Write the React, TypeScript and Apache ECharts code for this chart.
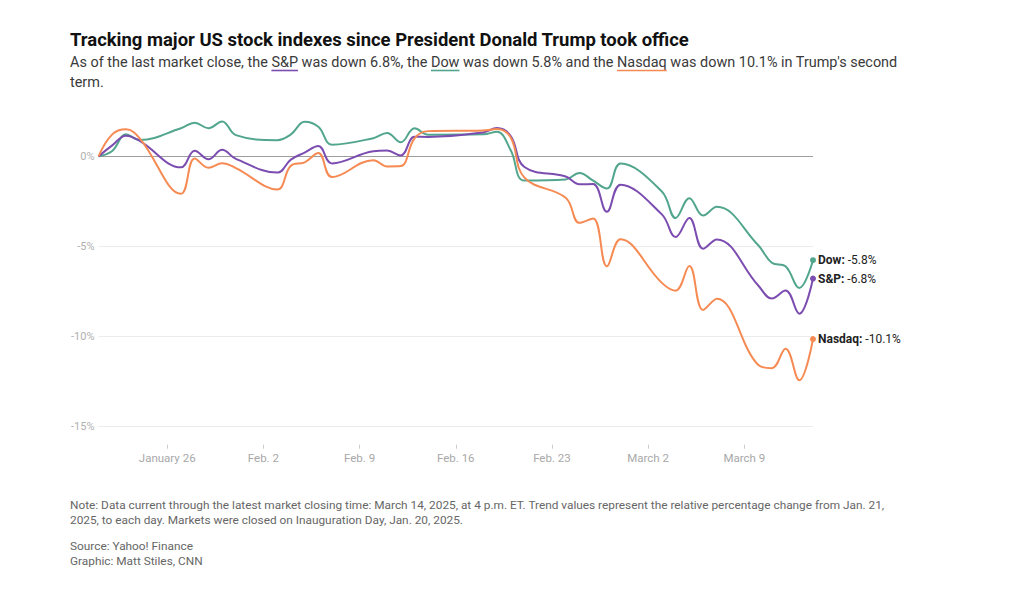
import React, { useEffect, useRef } from 'react';
import * as echarts from 'echarts';

// Trading days (Jan. 21 – March 14, 2025)
const dates = [
  '2025-01-21', '2025-01-22', '2025-01-23', '2025-01-24',
  '2025-01-27', '2025-01-28', '2025-01-29', '2025-01-30', '2025-01-31',
  '2025-02-03', '2025-02-04', '2025-02-05', '2025-02-06', '2025-02-07',
  '2025-02-10', '2025-02-11', '2025-02-12', '2025-02-13', '2025-02-14',
  '2025-02-18', '2025-02-19', '2025-02-20', '2025-02-21',
  '2025-02-24', '2025-02-25', '2025-02-26', '2025-02-27', '2025-02-28',
  '2025-03-03', '2025-03-04', '2025-03-05', '2025-03-06', '2025-03-07',
  '2025-03-10', '2025-03-11', '2025-03-12', '2025-03-13', '2025-03-14',
];

// Percent change from Jan. 21 close
const spValues = [
  0, 0.61, 1.15, 0.86,
  -0.61, 0.31, -0.16, 0.36, -0.14,
  -0.9, -0.18, 0.21, 0.57, -0.39,
  0.28, 0.32, 0.05, 1.09, 1.08,
  1.33, 1.57, 1.13, -0.59,
  -1.12, -1.55, -1.54, -3.08, -1.57,
  -3.22, -4.48, -3.42, -5.12, -4.61,
  -7.15, -7.89, -7.44, -8.73, -6.78,
];
const dowValues = [
  0, 0.3, 1.22, 0.91,
  1.56, 1.87, 1.56, 1.94, 1.18,
  0.9, 1.22, 1.92, 1.64, 0.65,
  1.01, 1.3, 0.78, 1.56, 1.2,
  1.22, 1.37, 0.34, -1.34,
  -1.28, -0.92, -1.35, -1.79, -0.4,
  -1.95, -3.42, -2.32, -3.28, -2.8,
  -4.92, -5.9, -6.1, -7.3, -5.76,
];
const nasdaqValues = [
  0, 1.22, 1.5, 1.0,
  -2.08, -0.12, -0.63, -0.38, -0.65,
  -1.84, -0.52, -0.33, 0.18, -1.15,
  -0.21, -0.56, -0.54, 1.0, 1.4,
  1.44, 1.52, 1.04, -1.18,
  -2.3, -3.69, -3.45, -6.1, -4.6,
  -7.02, -7.45, -6.09, -8.52, -7.9,
  -11.56, -11.75, -10.67, -12.42, -10.14,
];

const seriesNames = ['Dow', 'S&P', 'Nasdaq'];
const seriesColors = ['#52a68d', '#7c4db0', '#f68a53'];

const xTickDates = ['2025-01-26', '2025-02-02', '2025-02-09', '2025-02-16', '2025-02-23', '2025-03-02', '2025-03-09'];
const xTickLabels = ['January 26', 'Feb. 2', 'Feb. 9', 'Feb. 16', 'Feb. 23', 'March 2', 'March 9'];
const yMin = -15;
const yMax = 2.5;
const yStep = 5;

const titleText = 'Tracking major US stock indexes since President Donald Trump took office';
const noteLines = [
  'Note: Data current through the latest market closing time: March 14, 2025, at 4 p.m. ET. Trend values represent the relative percentage change from Jan. 21,',
  '2025, to each day. Markets were closed on Inauguration Day, Jan. 20, 2025.',
];
const creditLines = ['Source: Yahoo! Finance', 'Graphic: Matt Stiles, CNN'];

const DAY = 86400000;
const toUtc = (s: string) => {
  const [y, m, d] = s.split('-').map(Number);
  return Date.UTC(y, m - 1, d);
};
const dayIndex = (s: string) => Math.round((toUtc(s) - toUtc(dates[0])) / DAY);

export default function App() {
  const ref = useRef<HTMLDivElement>(null);

  useEffect(() => {
    const el = ref.current;
    if (!el) return;
    const chart = echarts.init(el, null, { renderer: 'svg' });

    const FAMILY = 'Roboto, "Liberation Sans", Arial, sans-serif';
    const canvas = document.createElement('canvas');
    const ctx = canvas.getContext('2d') as CanvasRenderingContext2D;
    const measure = (text: string, font: string) => {
      ctx.font = font;
      return ctx.measureText(text).width;
    };
    const fit = (text: string, weight: string, target: number) =>
      (100 * target) / measure(text, `${weight} 100px ${FAMILY}`);

    const last = (a: number[]) => a[a.length - 1];
    const sub1 = `As of the last market close, the S&P was down ${Math.abs(last(spValues)).toFixed(1)}%, the Dow was down ${Math.abs(last(dowValues)).toFixed(1)}% and the Nasdaq was down ${Math.abs(last(nasdaqValues)).toFixed(1)}% in Trump's second`;
    const sub2 = 'term.';

    const titleSize = fit(titleText, 'bold', 620);
    const subSize = fit(sub1, 'normal', 828);
    const noteSize = fit(noteLines[0], 'normal', 815);
    const titleFont = `bold ${titleSize.toFixed(2)}px ${FAMILY}`;
    const subFont = `normal ${subSize.toFixed(2)}px ${FAMILY}`;
    const noteFont = `normal ${noteSize.toFixed(2)}px ${FAMILY}`;

    const underline = (word: string, color: string) => {
      const idx = sub1.indexOf(word);
      const x0 = 70 + measure(sub1.slice(0, idx), subFont);
      const w = measure(word, subFont);
      return {
        type: 'line',
        shape: { x1: x0, y1: 70.5, x2: x0 + w, y2: 70.5 },
        style: { stroke: color, lineWidth: 1.6 },
        silent: true,
      };
    };

    const txt = (text: string, x: number, y: number, font: string, fill: string) => ({
      type: 'text',
      x,
      y,
      silent: true,
      style: {
        text,
        font,
        fill,
        textAlign: 'left',
        textVerticalAlign: 'middle',
      },
    });

    const xTickVals = xTickDates.map(dayIndex);
    const dataSets = [dowValues, spValues, nasdaqValues];

    const series = dataSets.map((vals, i) => {
      const n = vals.length;
      return {
        type: 'line',
        name: seriesNames[i],
        data: vals.map((v, j) => [dayIndex(dates[j]), v]),
        smooth: 0.4,
        showSymbol: true,
        symbol: 'circle',
        symbolSize: (_v: any, p: any) => (p.dataIndex === n - 1 ? 6 : 0),
        lineStyle: { color: seriesColors[i], width: 2 },
        itemStyle: { color: seriesColors[i] },
        emphasis: { disabled: true },
        z: 3 + i,
        endLabel: {
          show: true,
          distance: 5,
          color: '#222',
          fontSize: 12,
          fontFamily: FAMILY,
          formatter: (p: any) => `{b|${seriesNames[i]}:} ${Number(p.value[1]).toFixed(1)}%`,
          rich: {
            b: { fontWeight: 'bold', fontSize: 12, color: '#222', fontFamily: FAMILY },
          },
        },
      };
    });

    chart.setOption({
      animation: false,
      backgroundColor: '#ffffff',
      grid: { left: 98.5, right: 211, top: 111.3, bottom: 170.3, containLabel: false },
      xAxis: {
        type: 'value',
        min: 0,
        max: dayIndex(dates[dates.length - 1]),
        offset: 18,
        axisLine: { show: true, onZero: false, lineStyle: { color: 'rgba(0,0,0,0)' } },
        axisTick: {
          show: true,
          length: 4,
          inside: false,
          lineStyle: { color: '#cccccc', width: 1 },
          customValues: xTickVals,
        },
        axisLabel: {
          customValues: xTickVals,
          color: '#a8a8a8',
          fontSize: 11.5,
          fontFamily: FAMILY,
          margin: 7,
          formatter: (v: number) => {
            const k = xTickVals.indexOf(v);
            return k >= 0 ? xTickLabels[k] : '';
          },
        },
        splitLine: { show: false },
      },
      yAxis: {
        type: 'value',
        min: yMin,
        max: yMax,
        interval: yStep,
        axisLine: { show: false },
        axisTick: { show: false },
        axisLabel: {
          color: '#b0b0b0',
          fontSize: 11,
          fontFamily: FAMILY,
          margin: 4,
          formatter: (v: number) => (Math.abs(v % yStep) < 1e-9 ? `${v}%` : ''),
        },
        splitLine: {
          show: true,
          lineStyle: {
            color: ['#ececec', '#ececec', '#ececec', '#9d9d9d', 'rgba(0,0,0,0)'],
            width: 1,
          },
        },
      },
      graphic: [
        txt(titleText, 70, 39.5, titleFont, '#111111'),
        txt(sub1, 70, 62, subFont, '#3a3a3a'),
        txt(sub2, 70, 82, subFont, '#3a3a3a'),
        underline('S&P', seriesColors[1]),
        underline('Dow', seriesColors[0]),
        underline('Nasdaq', seriesColors[2]),
        txt(noteLines[0], 70, 505, noteFont, '#666666'),
        txt(noteLines[1], 70, 520, noteFont, '#666666'),
        txt(creditLines[0], 70, 546, noteFont, '#666666'),
        txt(creditLines[1], 70, 561, noteFont, '#666666'),
      ],
      series,
    });

    return () => chart.dispose();
  }, []);

  return (
    <div
      ref={ref}
      style={{ position: 'fixed', left: 0, top: 0, width: 1024, height: 597, background: '#fff' }}
    />
  );
}
